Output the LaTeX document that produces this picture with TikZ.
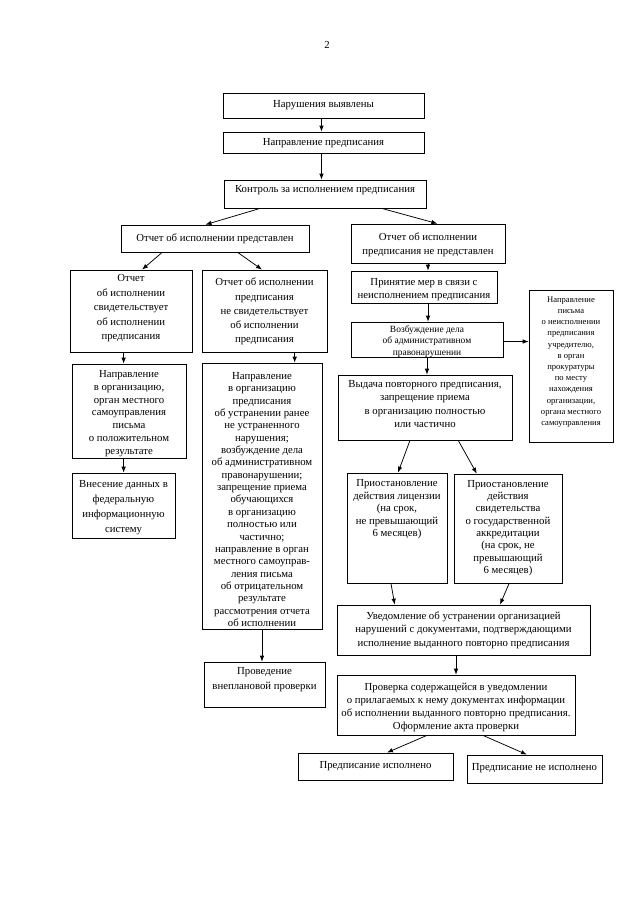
\documentclass[tikz,border=0pt]{standalone}
\usepackage{fontspec}
\setmainfont{Liberation Serif}
\usetikzlibrary{arrows.meta,fit,calc}
\newcommand\bx[5]{\coordinate (#1-a) at (#2,#3); \coordinate (#1-b) at (#4,#5); \node[box,fit=(#1-a)(#1-b)] (#1) {};}
\newcommand\fs[2]{\fontsize{#1}{#2}\selectfont}
\begin{document}
\begin{tikzpicture}[x=0.93pt,y=-0.93pt,
  box/.style={draw, line width=0.75pt, inner sep=0pt},
  txt/.style={align=center, inner sep=0pt},
  arr/.style={line width=0.7pt, -{Latex[length=5.5pt,width=4.2pt]}}]
\useasboundingbox (0,0) rectangle (640,905);
\node[txt, font=\fs{10}{12}] (pg) at (327,45) {2};
% boxes
\bx{b1}{223}{93}{424}{118}
\bx{b2}{223}{132}{424}{153}
\bx{b3}{224}{180}{426}{208}
\bx{b4}{121}{225}{309}{252}
\bx{b5}{351}{224}{505}{263}
\bx{b6}{70}{270}{192}{352}
\bx{b7}{202}{270}{327}{352}
\bx{b8}{351}{271}{497}{303}
\bx{b9}{351}{322}{503}{357}
\bx{b10}{529}{290}{613}{442}
\bx{b11}{338}{375}{512}{440}
\bx{b12}{72}{364}{186}{458}
\bx{b13}{72}{473}{175}{538}
\bx{b14}{202}{363}{322}{629}
\bx{b15}{204}{662}{325}{707}
\bx{b16}{347}{473}{447}{583}
\bx{b17}{454}{474}{562}{583}
\bx{b18}{337}{605}{590}{655}
\bx{b19}{337}{675}{575}{735}
\bx{b20}{298}{753}{453}{780}
\bx{b21}{467}{755}{602}{783}
% texts
\node[txt, font=\fs{10}{12}] (t1) at (323.5,105.5) {Нарушения выявлены};
\node[txt, font=\fs{10}{12}] (t2) at (323.5,143) {Направление предписания};
\node[txt, font=\fs{10}{12}] (t3) at (325,190) {Контроль за исполнением предписания};
\node[txt, font=\fs{10}{12}] (t4) at (215,238.5) {Отчет об исполнении представлен};
\node[txt, font=\fs{10}{13.5}] (t5) at (428,245) {Отчет об исполнении\\предписания не представлен};
\node[txt, font=\fs{10}{13.5}] (t6) at (131,308.5) {Отчет\\об исполнении\\свидетельствует\\об исполнении\\предписания};
\node[txt, font=\fs{10}{13.2}] (t7) at (264.5,311.5) {Отчет об исполнении\\предписания\\не свидетельствует\\об исполнении\\предписания};
\node[txt, font=\fs{10}{12}] (t8) at (424,289.5) {Принятие мер в связи с\\неисполнением предписания};
\node[txt, font=\fs{8.8}{10.7}] (t9) at (427,341.5) {Возбуждение дела\\об административном\\правонарушении};
\node[txt, font=\fs{8}{10.4}] (t10) at (571,362) {Направление\\письма\\о неисполнении\\предписания\\учредителю,\\в орган\\прокуратуры\\по месту\\нахождения\\организации,\\органа местного\\самоуправления};
\node[txt, font=\fs{10}{12.5}] (t11) at (425,404) {Выдача повторного предписания,\\запрещение приема\\в организацию полностью\\или частично};
\node[txt, font=\fs{10}{11.9}] (t12) at (129,413.5) {Направление\\в организацию,\\орган местного\\самоуправления\\письма\\о положительном\\результате};
\node[txt, font=\fs{10}{14}] (t13) at (123.5,508) {Внесение данных в\\федеральную\\информационную\\систему};
\node[txt, font=\fs{10}{11.5}] (t14) at (262,499.5) {Направление\\в организацию\\предписания\\об устранении ранее\\не устраненного\\нарушения;\\возбуждение дела\\об административном\\правонарушении;\\запрещение приема\\обучающихся\\в организацию\\полностью или\\частично;\\направление в орган\\местного самоуправ-\\ления письма\\об отрицательном\\результате\\рассмотрения отчета\\об исполнении};
\node[txt, font=\fs{10}{14}] (t15) at (264.5,680) {Проведение\\внеплановой проверки};
\node[txt, font=\fs{10}{11.6}] (t16) at (397,509.5) {Приостановление\\действия лицензии\\(на срок,\\не превышающий\\6 месяцев)};
\node[txt, font=\fs{10}{11.5}] (t17) at (508,528) {Приостановление\\действия\\свидетельства\\о государственной\\аккредитации\\(на срок, не\\превышающий\\6 месяцев)};
\node[txt, font=\fs{10}{12.5}] (t18) at (463.5,630) {Уведомление об устранении организацией\\нарушений с документами, подтверждающими\\исполнение выданного повторно предписания};
\node[txt, font=\fs{10}{11.9}] (t19) at (456,707.5) {Проверка содержащейся в уведомлении\\о прилагаемых к нему документах информации\\об исполнении выданного повторно предписания.\\Оформление акта проверки};
\node[txt, font=\fs{10}{12}] (t20) at (375.5,766.5) {Предписание исполнено};
\node[txt, font=\fs{10}{12}] (t21) at (534.5,768.5) {Предписание не исполнено};
% connectors
\draw[arr] ($(b1.south west)!0.49!(b1.south east)$) coordinate (c0) -- (c0 |- b2.north);
\draw[arr] (c0 |- b2.south) -- (c0 |- b3.north);
\draw[arr] ($(b3.south west)!0.18!(b3.south east)$) -- ($(b4.north west)!0.45!(b4.north east)$);
\draw[arr] ($(b3.south west)!0.78!(b3.south east)$) -- ($(b5.north west)!0.56!(b5.north east)$);
\draw[arr] ($(b4.south west)!0.22!(b4.south east)$) -- ($(b6.north west)!0.59!(b6.north east)$);
\draw[arr] ($(b4.south west)!0.62!(b4.south east)$) -- ($(b7.north west)!0.48!(b7.north east)$);
\draw[arr] ($(b6.south west)!0.44!(b6.south east)$) coordinate (c1) -- (c1 |- b12.north);
\draw[arr] (c1 |- b12.south) -- (c1 |- b13.north);
\draw[arr] ($(b7.south west)!0.74!(b7.south east)$) coordinate (c2) -- (c2 |- b14.north);
\draw[arr] (b14.south) -- (b14.south |- b15.north);
\draw[arr] (b5.south) -- (b5.south |- b8.north);
\draw[arr] (b5.south |- b8.south) -- (b5.south |- b9.north);
\draw[arr] (b9.south) -- (b9.south |- b11.north);
\draw[arr] ($(b9.east)+(0,2)$) coordinate (c3) -- (c3 -| b10.west);
\draw[arr] ($(b11.south west)!0.414!(b11.south east)$) -- ($(b16.north west)!0.51!(b16.north east)$);
\draw[arr] ($(b11.south west)!0.69!(b11.south east)$) -- ($(b17.north west)!0.213!(b17.north east)$);
\draw[arr] ($(b16.south west)!0.44!(b16.south east)$) -- ($(b18.north west)!0.229!(b18.north east)$);
\draw[arr] ($(b17.south west)!0.51!(b17.south east)$) -- ($(b18.north west)!0.644!(b18.north east)$);
\draw[arr] (b19.north |- b18.south) -- (b19.north);
\draw[arr] ($(b19.south west)!0.378!(b19.south east)$) -- ($(b20.north west)!0.574!(b20.north east)$);
\draw[arr] ($(b19.south west)!0.613!(b19.south east)$) -- ($(b21.north west)!0.444!(b21.north east)$);
\end{tikzpicture}
\end{document}
